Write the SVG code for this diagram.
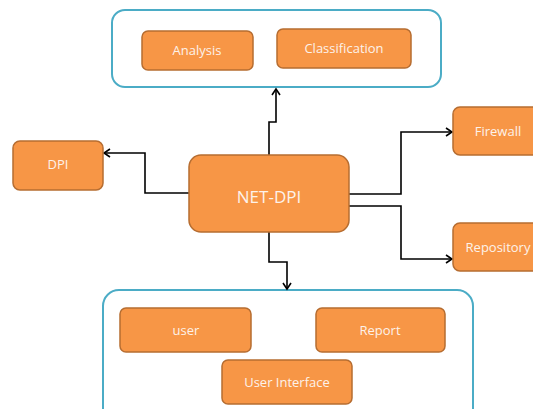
<svg xmlns="http://www.w3.org/2000/svg" width="533" height="409" viewBox="0 0 533 409">
<defs>
<style>
.box{fill:#F79646;stroke:#B66D31;stroke-width:1.5}
.cont{fill:#fff;stroke:#4BACC6;stroke-width:2}
.t{fill:#FDF2EA;font-family:"Open Sans","Liberation Sans",sans-serif;font-size:13px;text-anchor:middle;dominant-baseline:central}
.big{font-size:17px}
.c{fill:none;stroke:#000;stroke-width:1.6}
</style>
<marker id="ah" markerWidth="10" markerHeight="10" refX="8" refY="5" orient="auto" markerUnits="userSpaceOnUse">
<path d="M2,1 L8,5 L2,9" fill="none" stroke="#000" stroke-width="1.6"/>
</marker>
</defs>
<rect width="533" height="409" fill="#fff"/>
<g id="top-container"><rect class="cont" x="112" y="10" width="329" height="77" rx="13"/></g>
<g id="bottom-container"><rect class="cont" x="103" y="290" width="370" height="135" rx="16"/></g>
<g id="connectors">
<path class="c" d="M269,155 V122 H276 V89" marker-end="url(#ah)"/>
<path class="c" d="M269,232 V262 H287 V289" marker-end="url(#ah)"/>
<path class="c" d="M189,193 H145 V153 H104" marker-end="url(#ah)"/>
<path class="c" d="M349,194 H401 V132 H452" marker-end="url(#ah)"/>
<path class="c" d="M349,206 H401 V259 H452" marker-end="url(#ah)"/>
</g>
<g id="analysis"><rect class="box" x="142" y="31" width="111" height="39" rx="6"/><text class="t" x="197" y="50">Analysis</text></g>
<g id="classification"><rect class="box" x="277" y="29" width="134" height="39" rx="6"/><text class="t" x="344" y="48">Classification</text></g>
<g id="dpi"><rect class="box" x="13" y="141" width="90" height="49" rx="7"/><text class="t" x="58" y="164">DPI</text></g>
<g id="net-dpi"><rect class="box" x="189" y="155" width="160" height="77" rx="12"/><text class="t big" x="269" y="196">NET-DPI</text></g>
<g id="firewall"><rect class="box" x="453" y="107" width="92" height="48" rx="7"/><text class="t" x="498" y="131">Firewall</text></g>
<g id="repository"><rect class="box" x="453" y="223" width="92" height="48" rx="7"/><text class="t" x="498" y="247">Repository</text></g>
<g id="user"><rect class="box" x="120" y="308" width="131" height="44" rx="6"/><text class="t" x="186" y="330">user</text></g>
<g id="report"><rect class="box" x="316" y="308" width="129" height="44" rx="6"/><text class="t" x="380" y="330">Report</text></g>
<g id="user-interface"><rect class="box" x="222" y="360" width="130" height="44" rx="6"/><text class="t" x="287" y="382">User Interface</text></g>
</svg>
